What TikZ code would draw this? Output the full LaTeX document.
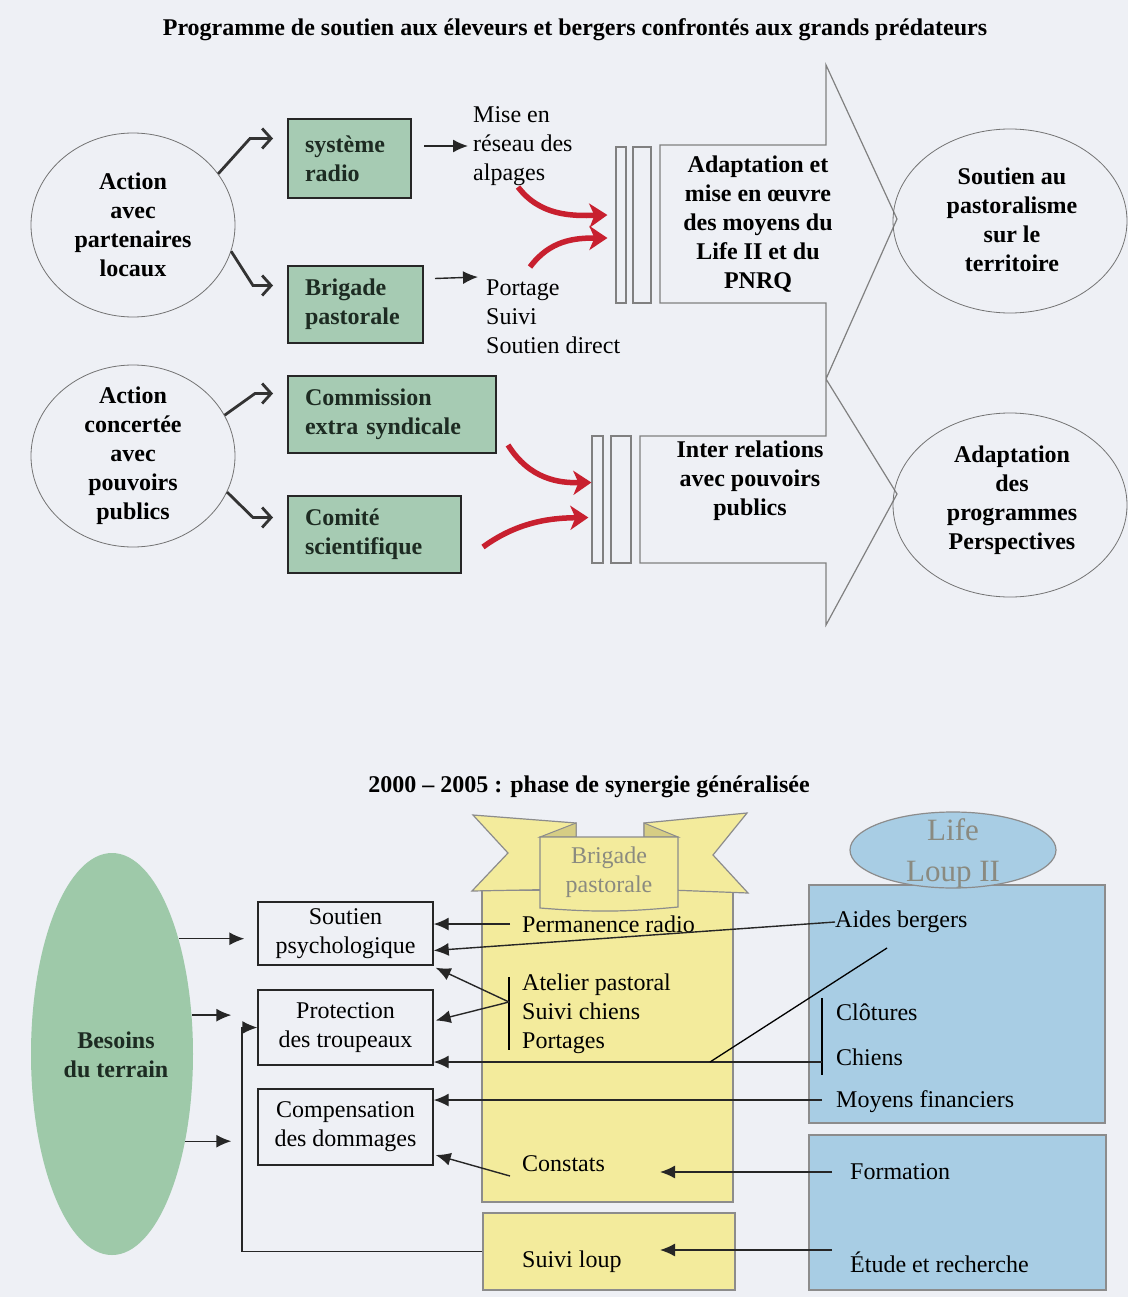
\documentclass[tikz,border=0pt]{standalone}
\usepackage{fontspec}
\setmainfont{Liberation Serif}
\usetikzlibrary{arrows.meta,calc,shapes.geometric}
\definecolor{paper}{HTML}{EEF0F5}
\definecolor{boxgreen}{HTML}{A6CBB3}
\definecolor{besoingreen}{HTML}{9EC9A9}
\definecolor{darkgreen}{HTML}{1D2B22}
\definecolor{yellowfill}{HTML}{F3EB9C}
\definecolor{foldc}{HTML}{D6CD84}
\definecolor{bluefill}{HTML}{A8CDE4}
\definecolor{redarrow}{HTML}{C8202F}
\definecolor{softgray}{HTML}{8A8A80}
\tikzset{ring/.style={ellipse, draw=black!55, thick, inner sep=0pt},
  bold/.style={font=\bfseries, align=center, inner sep=0pt},
  gbox/.style={draw=black!85, line width=2pt, fill=boxgreen, anchor=north west, inner xsep=17pt,
    align=left, font=\bfseries, text=darkgreen},
  kink/.style={draw=black!80, line width=2.8pt, -{Straight Barb[length=9pt,width=20pt]}},
  ptr/.style={draw=black!85, line width=1.4pt, -{Latex[length=15pt,width=13pt]}},
  redarr/.style={draw=redarrow, line width=5.5pt, -{Stealth[length=18pt,width=24pt,inset=5pt]}},
  outl/.style={draw=black!50, line width=1.2pt},
  bar/.style={rectangle, draw=black!50, line width=1.2pt, inner sep=0pt},
  wbox/.style={rectangle, draw=black!85, line width=1.4pt, align=center, inner sep=0pt},
  ybox/.style={rectangle, fill=yellowfill, draw=black!45, line width=1.2pt, inner sep=0pt},
  bbox/.style={rectangle, fill=bluefill, draw=black!45, line width=1.2pt, inner sep=0pt},
  banner/.style={fill=yellowfill, draw=black!45, line width=1.2pt},
  lbl/.style={anchor=west, inner sep=0pt, align=left}}

\begin{document}
\fontsize{24}{29}\selectfont
\begin{tikzpicture}[x=1pt,y=-1pt]
  \fill[paper] (0,0) rectangle (1128,1297);
  \useasboundingbox (0,0) rectangle (1128,1297);
  % titles
  \node[bold] (titre) at (575,30) {Programme de soutien aux éleveurs et bergers confrontés aux grands prédateurs};
  \node[bold] (phase) at (589,787) {2000 – 2005 : phase de synergie généralisée};

  % ---- upper diagram ----
  \node[ring, minimum width=204pt, minimum height=184pt] (apl) at (133,225) {};
  \node[bold] (apl-t) at (apl) {Action\\avec\\partenaires\\locaux};
  \node[ring, minimum width=204pt, minimum height=182pt] (apc) at (133,456) {};
  \node[bold] (apc-t) at (apc) {Action\\concertée\\avec\\pouvoirs\\publics};

  \node[gbox, text width=89pt, minimum height=79pt] (radio) at (287,118) {système\\radio};
  \node[gbox, text width=101pt, minimum height=77pt] (brig) at (287,265) {Brigade\\pastorale};
  \node[gbox, text width=174pt, minimum height=77pt] (comm) at (287,375) {Commission\\extra syndicale};
  \node[gbox, text width=139pt, minimum height=77pt] (comi) at (287,495) {Comité\\scientifique};

  \draw[kink] (apl.31) -- ($(radio.west)+(-37,-20)$) -- ($(radio.west)+(-14,-20)$);
  \draw[kink] (apl.-15) -- ($(brig.west)+(-34,-19)$) -- ($(brig.west)+(-14,-19)$);
  \draw[kink] (apc.24) -- ($(comm.west)+(-32,-21)$) -- ($(comm.west)+(-14,-21)$);
  \draw[kink] (apc.-21) -- ($(comi.west)+(-34,-17)$) -- ($(comi.west)+(-14,-17)$);

  \node[lbl] (mise) at (473,146) {Mise en\\réseau des\\alpages};
  \node[lbl] (port) at (486,317) {Portage\\Suivi\\Soutien direct};
  \draw[ptr, shorten <=12pt, shorten >=5pt] (radio.east |- mise.west) -- (mise.west);
  \draw[ptr] ($(brig.east)+(11,-26)$) -- ($(port.west)+(-8,-40)$);

  % double-headed block arrow
  \draw[outl] (660,145) -- (826,145) -- (826,65) -- (897,219) -- (826,379) -- (897,494) -- (826,625)
    -- (826,563) -- (640,563) -- (640,436) -- (826,436) -- (826,303) -- (660,303) -- cycle;
  \node[bar, minimum width=10pt, minimum height=156pt] (ba1) at (621,225) {};
  \node[bar, minimum width=18pt, minimum height=156pt] (ba2) at (642,225) {};
  \node[bar, minimum width=11pt, minimum height=127pt] (bb1) at (597.5,499.5) {};
  \node[bar, minimum width=20pt, minimum height=127pt] (bb2) at (621,499.5) {};
  \node[bold] (adapt) at (758,224) {Adaptation et\\mise en œuvre\\des moyens du\\Life II et du\\PNRQ};
  \node[bold] (inter) at (750,481) {Inter relations\\avec pouvoirs\\publics};

  % red inputs
  \coordinate (rs1) at (518,187);
  \coordinate (rs2) at (530,267);
  \coordinate (rs3) at (508,445);
  \coordinate (rs4) at (483,547);
  \draw[redarr] (rs1) .. controls (540,216) and (572,216) .. ($(ba1.west)+(-8,-10)$);
  \draw[redarr] (rs2) .. controls (550,240) and (575,238) .. ($(ba1.west)+(-8,13)$);
  \draw[redarr] (rs3) .. controls (530,480) and (560,483) .. ($(bb1.west)+(0,-17)$);
  \draw[redarr] (rs4) .. controls (520,520) and (555,518) .. ($(bb1.west)+(-3,18)$);

  \node[ring, minimum width=234pt, minimum height=184pt] (sout) at (1010,221) {};
  \node[bold] (sout-t) at (1012,220) {Soutien au\\pastoralisme\\sur le\\territoire};
  \node[ring, minimum width=234pt, minimum height=184pt] (progr) at (1010,505) {};
  \node[bold] (progr-t) at (1012,500) {Adaptation\\des\\programmes\\Perspectives};

  % ---- lower diagram ----
  \node[ellipse, fill=besoingreen, inner sep=0pt, minimum width=162pt, minimum height=402pt] (besoins) at (112,1054) {};
  \node[bold, text=darkgreen] (besoins-t) at (116,1055) {Besoins\\du terrain};

  \node[wbox, minimum width=175pt, minimum height=63pt] (soutien) at (345.5,933.5) {Soutien\\psychologique};
  \node[wbox, minimum width=175pt, minimum height=75pt] (protect) at (345.5,1027.5) {Protection\\des troupeaux};
  \node[wbox, minimum width=175pt, minimum height=76pt] (comp) at (345.5,1127) {Compensation\\des dommages};

  \draw[ptr, shorten >=13pt] (besoins.60) -- (besoins.60 -| soutien.west);
  \draw[ptr, shorten >=26pt] (besoins.26) -- (besoins.26 -| protect.west);
  \draw[ptr, shorten >=26pt] (besoins.-50) -- (besoins.-50 -| comp.west);

  % brigade column with its banner
  \node[ybox, minimum width=251pt, minimum height=312pt] (brigcol) at (607.5,1046) {};
  \node[ybox, minimum width=252pt, minimum height=77pt] (sloup) at (609,1251.5) {};
  \draw[banner] (473,815) -- (576,823) -- (576,889) -- (472,891) -- (508,853) -- cycle;
  \draw[banner] (644,823) -- (747,813) -- (713,855) -- (748,893) -- (644,889) -- cycle;
  \draw[fill=foldc, draw=black!45, line width=1pt] (576,823) -- (576,837) -- (540,837) -- cycle;
  \draw[fill=foldc, draw=black!45, line width=1pt] (644,823) -- (678,837) -- (644,837) -- cycle;
  \draw[banner] (540,837) -- (678,837) -- (678,907) to[bend left=5] (540,908) -- cycle;
  \node[align=center, text=softgray, inner sep=0pt] (ban-t) at (609,872) {Brigade\\pastorale};

  \node[lbl] (perm) at (522,924) {Permanence radio};
  \node[lbl] (atel) at (522,1014) {Atelier pastoral\\Suivi chiens\\Portages};
  \node[lbl] (const) at (522,1164) {Constats};
  \node[lbl] (tsloup) at (522,1262) {Suivi loup};

  % Life Loup II
  \node[bbox, minimum width=296pt, minimum height=238pt] (lifebox) at (957,1004) {};
  \node[bbox, minimum width=297pt, minimum height=155pt] (formbox) at (957.5,1212.5) {};
  \node[ellipse, fill=bluefill, draw=black!45, line width=1.2pt, inner sep=0pt,
    minimum width=206pt, minimum height=76pt] (life) at (953,850) {};
  \node[align=center, text=softgray, inner sep=0pt, font=\fontsize{31}{41}\selectfont] (life-t) at (953,853) {Life\\Loup II};

  \node[lbl] (aides) at (835,922) {Aides bergers};
  \node[lbl] (clot) at (836,1012) {Clôtures};
  \node[lbl] (chiens) at (836,1057) {Chiens};
  \node[lbl] (moyens) at (836,1102) {Moyens financiers};
  \node[lbl] (form) at (850,1172) {Formation};
  \node[lbl] (etude) at (850,1262) {Étude et recherche};

  % brackets
  \coordinate (atb) at (509,1002);
  \coordinate (clb) at (822,1062);
  \coordinate (adiag) at (887,948);
  \coordinate (ajoin) at (710,1062);
  \coordinate (fbx) at (242,1297);
  \coordinate (ftip) at (660,1172);
  \coordinate (etip) at (660,1250);
  \draw[line width=1.3pt] (atb) ++(0,-25) -- ++(0,73);
  \draw[line width=1.3pt] (clb) ++(0,-64) -- ++(0,77);

  % links to the needs
  \draw[ptr] ($(perm.west)+(-12,0)$) -- (perm.west -| soutien.east);
  \draw[ptr] (aides.west) -- ($(soutien.east)+(0,17)$);
  \draw[ptr] (atb) -- ($(soutien.south east)+(2,2)$);
  \draw[ptr] (atb) -- ($(protect.east)+(2,-7)$);
  \draw[ptr] (clb) -- (clb -| protect.east);
  \draw[line width=1.3pt] (adiag) -- (ajoin);
  \draw[ptr] ($(moyens.west)+(-14,-2)$) -- ($(comp.east)+(0,-27)$);
  \draw[ptr] ($(const.west)+(-12,12)$) -- ($(comp.east)+(2,28)$);
  \draw[ptr] ($(form.west)+(-18,0)$) -- (ftip);
  \draw[ptr] ($(etude.west)+(-18,-12)$) -- (etip);
  \draw[ptr] (sloup.west) -- (sloup.west -| fbx) |- (protect.west);
\end{tikzpicture}
\end{document}
